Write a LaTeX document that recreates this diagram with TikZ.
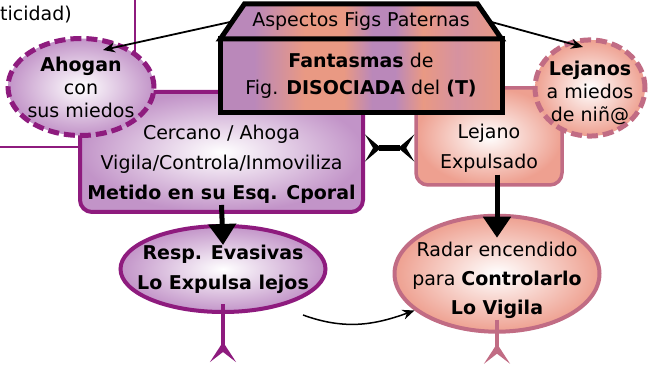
\documentclass[tikz,border=0pt]{standalone}
\usepackage{fontspec}
\setmainfont{DejaVu Sans}
\usetikzlibrary{shapes,arrows.meta,calc,positioning}

\definecolor{morado}{RGB}{142,27,126}
\definecolor{moradoclaro}{RGB}{194,148,200}
\definecolor{rosa}{RGB}{193,108,132}
\definecolor{rosaclaro}{RGB}{238,160,144}
\definecolor{lila}{RGB}{186,136,186}
\definecolor{salmon}{RGB}{233,153,131}
\definecolor{malva}{RGB}{214,146,160}

% franjas del titulo
\pgfdeclarehorizontalshading{franjas}{100bp}{color(0bp)=(lila); color(25bp)=(lila);
  color(31bp)=(lila); color(40bp)=(salmon); color(47bp)=(salmon); color(52bp)=(lila);
  color(56bp)=(lila); color(61bp)=(salmon); color(67bp)=(malva); color(75bp)=(salmon);
  color(100bp)=(salmon)}

\begin{document}
\begin{tikzpicture}[%
      x=1pt, y=1pt,
      >={Stealth[length=12pt,width=10pt]},   % flechas finas
      font=\fontsize{19}{30}\selectfont
      ]
  \tikzset{
    caja/.style={draw, rectangle, align=center, rounded corners=12pt, line width=4pt},
    cajamor/.style={caja, draw=morado, inner color=white, outer color=moradoclaro},
    cajarosa/.style={caja, draw=rosa, line width=3.5pt, inner color=white, outer color=rosaclaro},
    nube/.style={draw, ellipse, align=center, line width=5pt, inner sep=0pt,
      dash pattern=on 11pt off 5pt, font=\fontsize{19}{23}\selectfont},
    nubemor/.style={nube, draw=morado, inner color=white, outer color=moradoclaro},
    nuberosa/.style={nube, draw=rosa, inner color=white, outer color=rosaclaro},
    elip/.style={draw, ellipse, align=center, line width=4pt, inner sep=0pt},
    elipmor/.style={elip, draw=morado, inner color=white, outer color=moradoclaro},
    eliprosa/.style={elip, draw=rosa, inner color=white, outer color=rosaclaro},
    cabeza/.style={draw=black, line width=5pt, shading=franjas, outer sep=0pt, align=center},
    flecha/.style={->, line width=1.8pt},
    flechagorda/.style={-{Triangle[length=21pt,width=27pt]}, line width=5pt},
    lineamor/.style={draw=morado, line width=2pt},
    colamor/.style={morado, line width=4.5pt, -{Stealth[reversed,length=20pt,width=26pt,inset=10pt]}},
    colarosa/.style={rosa, line width=4.5pt, -{Stealth[reversed,length=20pt,width=26pt,inset=10pt]}},
    enlace/.style={line width=6pt,
      {Stealth[reversed,length=16pt,width=27pt,inset=8pt]}-{Stealth[reversed,length=16pt,width=27pt,inset=8pt]}}
  }
  \useasboundingbox (0,0) rectangle (653,367);

  \node[anchor=west, inner sep=0pt] (resto) at (0,352) {ticidad)};

  \node[cajamor, minimum width=283pt, minimum height=120pt, text height=98pt] (cercano) at (221.5,215)
    {Cercano / Ahoga\\Vigila/Controla/Inmoviliza\\\textbf{Metido en su Esq. Cporal}};
  \node[cajarosa, minimum width=146pt, minimum height=97pt, text height=67pt] (lejano) at (489,230.5)
    {Lejano\\Expulsado};

  \node[cabeza, minimum width=282pt, minimum height=74pt, font=\fontsize{19}{27}\selectfont] (fig) at (361,291)
    {\textbf{Fantasmas} de\\Fig. \textbf{DISOCIADA} del \textbf{(T)}};
  \node[cabeza, trapezium, trapezium angle=42, trapezium stretches=true,
    minimum width=282pt, minimum height=35pt, inner sep=1pt, above=0pt of fig] (tab) {Aspectos Figs Paternas};

  \node[nubemor, minimum width=146pt, minimum height=97pt, inner xsep=-4pt] (ahogan) at (81,280)
    {\textbf{Ahogan}\\con\\sus miedos};
  \node[nuberosa, minimum width=110pt, minimum height=96pt, inner xsep=-9pt,
    text height=68pt, text depth=-2pt] (lejanos) at (590,279)
    {\textbf{Lejanos}\\a miedos\\de niñ@};

  \node[elipmor, minimum width=205pt, minimum height=86pt, inner xsep=-16pt,
    below=10pt of cercano, xshift=1.5pt] (resp)
    {\textbf{Resp. Evasivas}\\\textbf{Lo Expulsa lejos}};
  \node[eliprosa, minimum width=205pt, minimum height=112pt, inner xsep=-24pt,
    text height=82pt, text depth=-4pt, below=27pt of lejano, xshift=8pt,
    font=\fontsize{19}{29}\selectfont] (radar)
    {Radar encendido\\para \textbf{Controlarlo}\\\textbf{Lo Vigila}};

  \coordinate[below=48pt of resp.south] (finmor);
  \coordinate[below=30pt of radar.south] (finrosa);

  \draw[lineamor] (ahogan.33 |- 0,367) -- (ahogan.33);
  \draw[lineamor] ([yshift=5pt]cercano.west -| 0,0) -- ([yshift=5pt]cercano.west);

  \draw[flecha] (tab.left side) -- ($(ahogan.center)+(22,37)$);
  \draw[flecha] (tab.right side) -- ($(lejanos.center)+(-7,41)$);

  \draw[enlace] ([yshift=4pt]cercano.east) -- ([yshift=4pt]cercano.east -| lejano.west);

  \draw[flechagorda] ([yshift=9pt]cercano.south) -- ([yshift=-21pt]resp.north);
  \draw[flechagorda] ([yshift=12pt]lejano.south -| radar.north) -- ([yshift=-24pt]radar.north);

  \draw[colamor] ([yshift=10pt]resp.south) -- (finmor);
  \draw[colarosa] ([yshift=14pt]radar.south) -- (finrosa);

  \draw[->, line width=1.5pt] ($(resp.center)+(80,-46)$) to[out=-20,in=200] (radar.204);
\end{tikzpicture}
\end{document}
